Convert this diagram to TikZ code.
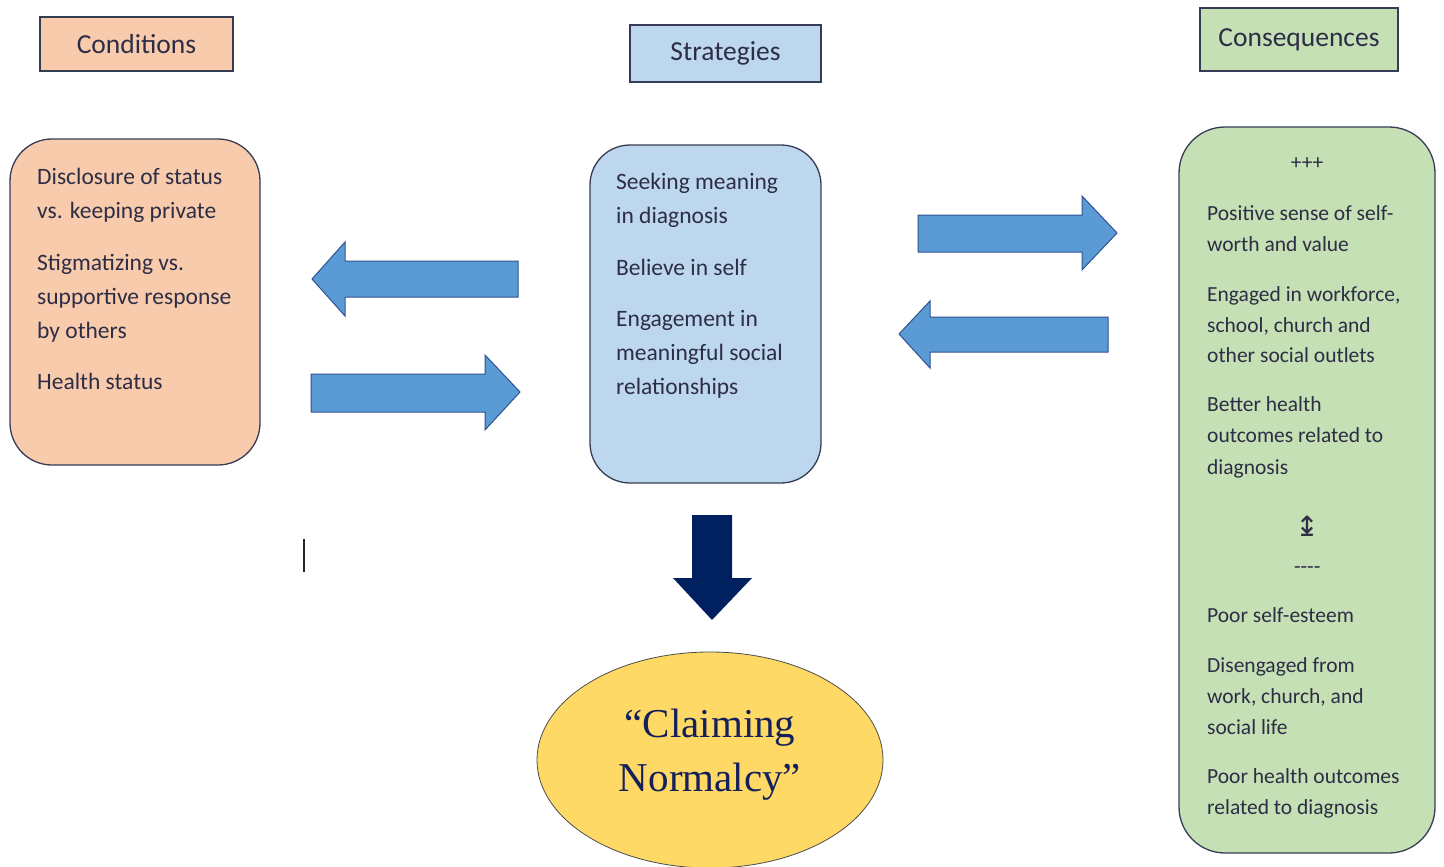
\documentclass[tikz,border=0pt]{standalone}
\usepackage{fontspec}
\setmainfont{Carlito}
\newfontfamily\serifnf{Liberation Serif}
\newfontfamily\symfnt{DejaVu Sans}
\usetikzlibrary{shapes.geometric}
\definecolor{orangeF}{HTML}{F8CBAD}
\definecolor{blueF}{HTML}{BDD7EE}
\definecolor{greenF}{HTML}{C5E0B4}
\definecolor{edgec}{RGB}{55,60,85}
\definecolor{txt}{RGB}{45,45,70}
\definecolor{arrF}{HTML}{5B9BD5}
\definecolor{arrE}{HTML}{2F528F}
\definecolor{navy}{HTML}{002060}
\definecolor{yel}{HTML}{FFD966}
\definecolor{ntxt}{HTML}{14205A}
\begin{document}
\begin{tikzpicture}[x=1pt,y=-1pt,
  header/.style={draw=edgec, line width=1.3pt, inner sep=0pt, text=txt,
    font=\fontsize{27.5}{30}\selectfont},
  mainbox/.style={draw=edgec, line width=1.3pt, inner sep=0pt},
  bodytext/.style={anchor=base west, inner sep=0pt, text=txt},
  blockarrow/.style={fill=arrF, draw=arrE, line width=1pt, line join=miter},
]
\useasboundingbox (0,0) rectangle (1444,867);

% headers
\node[header, fill=orangeF, minimum width=193pt, minimum height=54pt] (hcond) at (136.5,44) {Conditions};
\node[header, fill=blueF, minimum width=191pt, minimum height=57pt] (hstrat) at (725.5,53.5) {Strategies};
\node[header, fill=greenF, minimum width=198pt, minimum height=63pt] (hcons) at (1299,39.5) {Consequences};

% main boxes
\node[mainbox, fill=orangeF, rounded corners=42pt, minimum width=250pt, minimum height=326pt] (bcond) at (135,302) {};
\node[mainbox, fill=blueF, rounded corners=40pt, minimum width=231pt, minimum height=338pt] (bstrat) at (705.5,314) {};
\node[mainbox, fill=greenF, rounded corners=46pt, minimum width=256pt, minimum height=726pt] (bcons) at (1307,490) {};

% texts
\node[bodytext] (tcond) at (37,184) {\parbox[t]{220pt}{\fontsize{23.5}{34}\selectfont\raggedright
Disclosure of status\\ vs. keeping private\\[18pt]
Stigmatizing vs.\\ supportive response\\ by others\\[17pt]
Health status}};

\node[bodytext] (tstrat) at (616,189) {\parbox[t]{200pt}{\fontsize{23.5}{34}\selectfont\raggedright
Seeking meaning\\ in diagnosis\\[18pt]
Believe in self\\[18pt]
Engagement in\\ meaningful social\\ relationships}};

\node[bodytext] (tcons) at (1207,169) {\parbox[t]{200pt}{\fontsize{21.5}{31}\selectfont
{\centering +++\par}\vspace{20pt}
{\raggedright Positive sense of self-\\ worth and value\\[19pt]
Engaged in workforce,\\ school, church and\\ other social outlets\\[18pt]
Better health\\ outcomes related to\\ diagnosis\par}\vspace{32pt}
{\centering{\symfnt\fontsize{28}{31}\selectfont ↨}\par}\vspace{6pt}
{\centering -{}-{}-{}-\par}\vspace{18pt}
{\raggedright Poor self-esteem\\[19pt]
Disengaged from\\ work, church, and\\ social life\\[18pt]
Poor health outcomes\\ related to diagnosis\par}}};

% block arrows left
\draw[blockarrow] (518,261) -- (345,261) -- (345,242) -- (312,279) -- (345,316) -- (345,297) -- (518,297) -- cycle;
\draw[blockarrow] (311,374) -- (485,374) -- (485,355) -- (520,392) -- (485,430) -- (485,412) -- (311,412) -- cycle;
% block arrows right
\draw[blockarrow] (918,215) -- (1082,215) -- (1082,196) -- (1117,233) -- (1082,270) -- (1082,252) -- (918,252) -- cycle;
\draw[blockarrow] (1108,317) -- (930,317) -- (930,301) -- (899,334) -- (930,368) -- (930,352) -- (1108,352) -- cycle;
% down arrow
\fill[navy] (692,515) -- (732,515) -- (732,578) -- (752,578) -- (712,620) -- (673,578) -- (692,578) -- cycle;

% ellipse
\node[ellipse, draw=black!70, line width=0.8pt, fill=yel, minimum width=346pt, minimum height=216pt,
  inner sep=0pt] (claim) at (710,760) {};
\node[inner sep=0pt, align=center, text=ntxt, font=\serifnf\fontsize{41}{54}\selectfont] (claimtxt) at (710,755)
  {“Claiming\\ Normalcy”};

% stray cursor mark
\draw[line width=1.6pt, black!85] (304,539) -- (304,572);
\end{tikzpicture}
\end{document}
